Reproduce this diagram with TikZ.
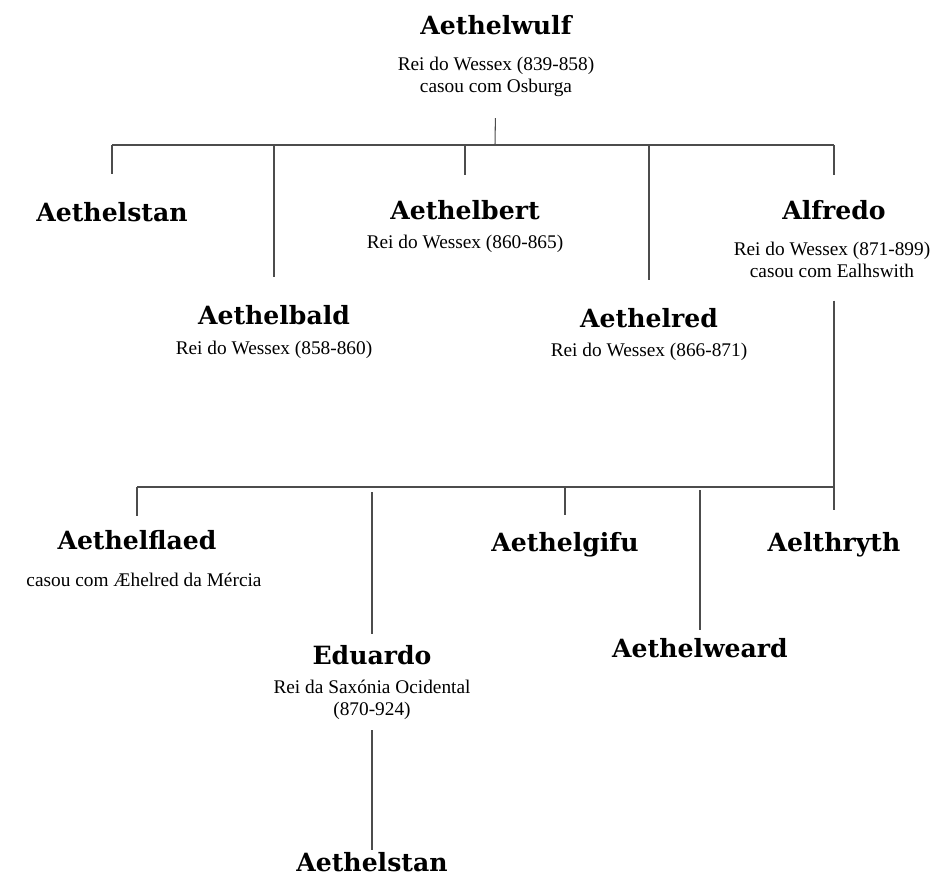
\documentclass[tikz,border=0pt]{standalone}
\usepackage{fontspec}
\setmainfont{Liberation Serif}
\newfontfamily\gotfont{DejaVu Serif}
\usetikzlibrary{positioning}
\newcommand{\nomefont}{\gotfont\bfseries\fontsize{14.3}{17}\selectfont}
\newcommand{\subfont}{\fontsize{11}{12.6}\selectfont}
\tikzset{
  nome/.style={inner sep=0pt, font=\nomefont},
  sub/.style={inner sep=0pt, align=center, font=\subfont},
  ramo/.style={draw=black!70, line width=0.6pt}
}
\begin{document}
\begin{tikzpicture}[x=0.02cm, y=-0.02cm]
\useasboundingbox (0,0) rectangle (946,890);
% geracao 1
\node[nome](wulf) at (496,25) {Aethelwulf};
\node[sub](wulfsub) at (496,77) {Rei do Wessex (839-858)\\casou com Osburga};
% geracao 2
\node[nome](stan) at (112,212) {Aethelstan};
\node[nome](bert) at (465,210) {Aethelbert};
\node[sub](bertsub) at (465,244) {Rei do Wessex (860-865)};
\node[nome](alf) at (834,210) {Alfredo};
\node[sub](alfsub) at (832,260) {Rei do Wessex (871-899)\\casou com Ealhswith};
\node[nome](bald) at (274,315) {Aethelbald};
\node[sub](baldsub) at (274,350) {Rei do Wessex (858-860)};
\node[nome](red) at (649,318) {Aethelred};
\node[sub](redsub) at (649,352) {Rei do Wessex (866-871)};
% geracao 3
\node[nome](flaed) at (137,540) {Aethelflaed};
\node[sub](flaedsub) at (144,580) {casou com Æhelred da Mércia};
\node[nome](gifu) at (565,545) {Aethelgifu};
\node[nome](thryth) at (834,545) {Aelthryth};
\node[nome](edu) at (372,655) {Eduardo};
\node[sub](edusub) at (372,700) {Rei da Saxónia Ocidental\\(870-924)};
\node[nome](weard) at (700,648) {Aethelweard};
% geracao 4
\node[nome](stanb) at (372,862) {Aethelstan};
%
\coordinate (bus1) at (495,145);
\coordinate (bus2) at (834,487);
\draw[ramo, shorten <=0.42cm](wulfsub) -- (bus1);
\draw[ramo](stan |- bus1) -- (alf |- bus1);
\draw[ramo, shorten >=0.55cm](stan |- bus1) -- (stan.north);
\draw[ramo, shorten >=0.5cm](bert |- bus1) -- (bert.north);
\draw[ramo, shorten >=0.5cm](alf |- bus1) -- (alf.north);
\draw[ramo, shorten >=0.55cm](bald |- bus1) -- (bald.north);
\draw[ramo, shorten >=0.55cm](red |- bus1) -- (red.north);
%
\draw[ramo, shorten <=0.45cm, shorten >=0.45cm](alfsub.south -| thryth) -- (thryth);
\draw[ramo](flaed |- bus2) -- (bus2);
\draw[ramo, shorten >=0.28cm](flaed |- bus2) -- (flaed.north);
\draw[ramo, shorten <=0.1cm, shorten >=0.22cm](edu |- bus2) -- (edu.north);
\draw[ramo, shorten >=0.34cm](gifu |- bus2) -- (gifu.north);
\draw[ramo, shorten <=0.06cm, shorten >=0.16cm](weard |- bus2) -- (weard.north);
%
\draw[ramo, shorten <=0.2cm, shorten >=0.04cm](edusub) -- (stanb);
\end{tikzpicture}
\end{document}
